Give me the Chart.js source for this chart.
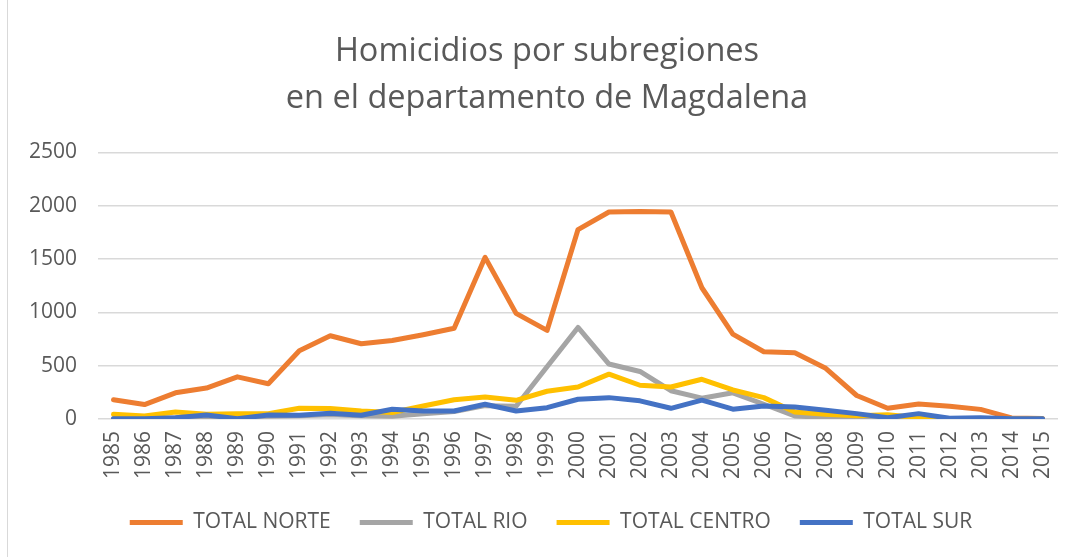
<!DOCTYPE html>
<html>
<head>
<meta charset="utf-8">
<script src="https://cdn.jsdelivr.net/npm/chart.js@4/dist/chart.umd.min.js"></script>
<style>
    body { margin: 0; background: #fff; }
    #wrap { position: relative; height: 557px; box-sizing: border-box; border-left: 1px solid #d9d9d9; margin-left: 7px; width: 1071px; }
</style>
</head>
<body>
<div id="wrap"><canvas id="homicidiosChart"></canvas></div>
<script>
const years = ['1985', '1986', '1987', '1988', '1989', '1990', '1991', '1992', '1993', '1994', '1995',
    '1996', '1997', '1998', '1999', '2000', '2001', '2002', '2003', '2004', '2005', '2006', '2007',
    '2008', '2009', '2010', '2011', '2012', '2013', '2014', '2015'];

const totalNorte = [180, 135, 245, 290, 395, 330, 640, 780, 705, 735, 790, 850, 1515, 990, 830, 1775,
    1940, 1945, 1940, 1230, 795, 630, 620, 475, 220, 100, 140, 120, 90, 10, 5];
const totalRio = [5, 5, 10, 15, 20, 25, 30, 40, 30, 25, 50, 70, 125, 120, 490, 858,
    515, 445, 265, 195, 245, 138, 28, 15, 10, 5, 10, 5, 5, 0, 0];
const totalCentro = [44, 28, 66, 44, 50, 50, 100, 98, 75, 60, 122, 180, 205, 175, 260, 300,
    420, 316, 300, 372, 272, 200, 66, 44, 30, 40, 12, 2, 5, 0, 0];
const totalSur = [3, 3, 12, 38, 3, 38, 35, 53, 35, 91, 75, 75, 138, 75, 106, 185,
    200, 170, 100, 176, 92, 122, 113, 82, 50, 12, 50, 6, 12, 2, 2];

const yTicks = [0, 500, 1000, 1500, 2000, 2500];

const seriesNames = ['TOTAL NORTE', 'TOTAL RIO', 'TOTAL CENTRO', 'TOTAL SUR'];
const seriesColors = ['#ED7D31', '#A5A5A5', '#FFC000', '#4472C4'];
const seriesData = [totalNorte, totalRio, totalCentro, totalSur];

const textColor = '#595959';
const fontFamily = '"Open Sans", sans-serif';

// title and legend are centred on the whole frame, not on the padded area
const shiftBlocks = {
    id: 'shiftBlocks',
    afterLayout(chart) {
        if (chart.titleBlock) {
            chart.titleBlock.left += 14;
            chart.titleBlock.right += 14;
        }
        if (chart.legend) {
            chart.legend.left += 18;
            chart.legend.right += 18;
        }
    }
};

const ctx = document.getElementById('homicidiosChart').getContext('2d');
new Chart(ctx, {
    type: 'line',
    data: {
        labels: years,
        datasets: seriesNames.map((name, i) => ({
            label: name,
            data: seriesData[i],
            borderColor: seriesColors[i],
            backgroundColor: seriesColors[i],
            borderWidth: 5,
            borderCapStyle: 'round',
            borderJoinStyle: 'round',
            pointRadius: 0,
            pointHoverRadius: 0,
            tension: 0,
            // later series drawn on top, like the original
            order: seriesNames.length - i
        }))
    },
    options: {
        responsive: true,
        maintainAspectRatio: false,
        animation: false,
        layout: {
            padding: { left: 0, right: 20, top: 28, bottom: 14 }
        },
        plugins: {
            title: {
                display: true,
                text: ['Homicidios por subregiones', 'en el departamento de Magdalena'],
                color: textColor,
                font: { family: fontFamily, size: 32.5, weight: 'normal', lineHeight: 1.45 },
                padding: { top: 0, bottom: 30 }
            },
            legend: {
                position: 'bottom',
                labels: {
                    color: textColor,
                    font: { family: fontFamily, size: 21 },
                    usePointStyle: true,
                    pointStyle: 'line',
                    pointStyleWidth: 53,
                    boxHeight: 21,
                    padding: 29,
                    sort: (a, b) => a.datasetIndex - b.datasetIndex
                }
            },
            tooltip: { enabled: false }
        },
        scales: {
            x: {
                offset: true,
                grid: { display: false },
                border: { display: false },
                ticks: {
                    color: textColor,
                    font: { family: fontFamily, size: 21 },
                    minRotation: 90,
                    maxRotation: 90,
                    autoSkip: false,
                    padding: 4
                }
            },
            y: {
                min: yTicks[0],
                max: yTicks[yTicks.length - 1],
                grid: { color: '#d9d9d9', lineWidth: 1.5, drawTicks: false },
                border: { display: false },
                afterBuildTicks: axis => { axis.ticks = yTicks.map(v => ({ value: v })); },
                ticks: {
                    color: textColor,
                    font: { family: fontFamily, size: 21 },
                    padding: 21,
                    callback: value => String(value)
                }
            }
        }
    },
    plugins: [shiftBlocks]
});
</script>
</body>
</html>
